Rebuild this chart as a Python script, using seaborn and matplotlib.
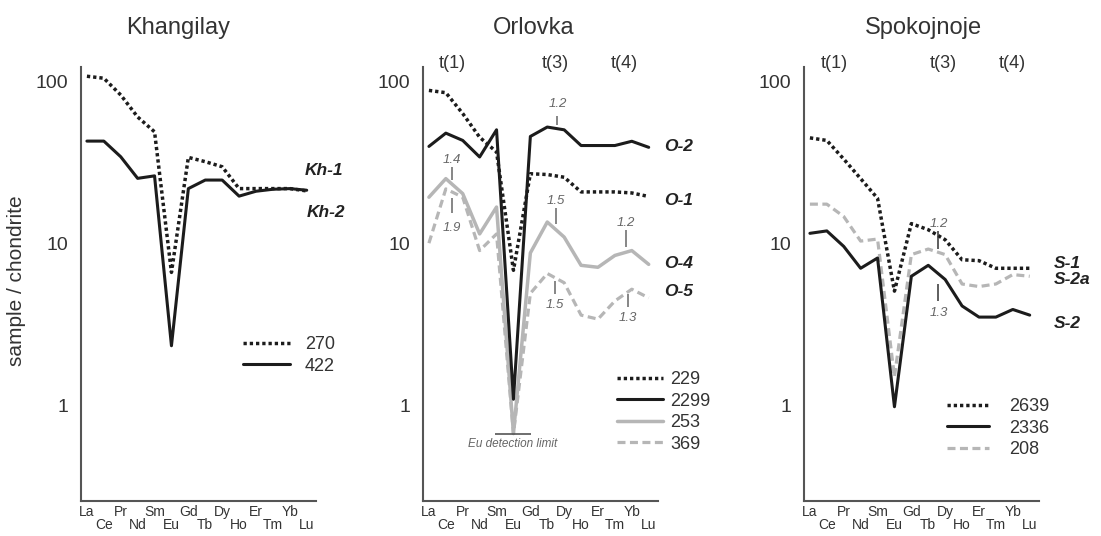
import numpy as np
import matplotlib
matplotlib.use("Agg")
import matplotlib.pyplot as plt
import seaborn as sns

# REE elements (chondrite-normalized patterns)
ELEMENTS = ["La", "Ce", "Pr", "Nd", "Sm", "Eu", "Gd", "Tb", "Dy", "Ho", "Er", "Tm", "Yb", "Lu"]

# Khangilay
KH_270 = [107, 104, 82, 60, 48.6, 6.6, 33.8, 31.8, 29.6, 21.7, 21.7, 21.7, 21.7, 21.0]
KH_422 = [42.6, 42.6, 34.1, 25.1, 26.0, 2.33, 21.7, 24.5, 24.5, 19.5, 20.9, 21.5, 21.7, 21.2]

# Orlovka
EU_LIMIT = 0.67
OR_229 = [87.5, 84.7, 63, 45, 36.5, 6.8, 26.8, 26.5, 25.5, 20.7, 20.7, 20.7, 20.4, 19.4]
OR_2299 = [39.5, 47.7, 43, 34, 50, 1.09, 45.5, 52, 50, 40, 40, 40, 42.5, 39]
OR_253 = [19.2, 25, 20.2, 11.4, 16.7, EU_LIMIT, 8.7, 13.5, 10.9, 7.3, 7.1, 8.4, 9.0, 7.4]
OR_369 = [10, 21.6, 19.2, 9.0, 11.4, EU_LIMIT, 4.9, 6.5, 5.7, 3.6, 3.4, 4.4, 5.2, 4.6]

# Spokojnoje
SP_2639 = [44.6, 43, 33, 25, 18.9, 5.06, 13.2, 12.1, 10.5, 7.9, 7.8, 7.0, 7.0, 7.0]
SP_2336 = [11.5, 11.9, 9.55, 7.0, 8.1, 0.98, 6.25, 7.3, 5.97, 4.1, 3.5, 3.5, 3.9, 3.6]
SP_208 = [17.4, 17.4, 14.6, 10.3, 10.6, 1.5, 8.5, 9.2, 8.5, 5.6, 5.4, 5.6, 6.4, 6.25]

sns.set_style("white")
plt.rcParams["font.family"] = ["Liberation Sans", "DejaVu Sans"]

W, H = 1101, 536
BLACK = "#1c1c1c"
GRAY = "#b6b6b6"
AXC = "#555555"
TXT = "#333333"
ANN = "#666666"

STYLES = {
    "dot": dict(color=BLACK, linewidth=2.5, linestyle=(0, (0.95, 0.85))),
    "solid": dict(color=BLACK, linewidth=2.2, linestyle="-"),
    "gsolid": dict(color=GRAY, linewidth=2.5, linestyle="-"),
    "gdash": dict(color=GRAY, linewidth=2.3, linestyle=(0, (2.5, 1.4))),
}

panels = [
    dict(title="Khangilay", cx=178, left=81,
         series=[("422", KH_422, "solid"), ("270", KH_270, "dot")],
         order=["270", "422"], leg=(243, 336), htp=0.83, hl=2.6,
         labels=[("Kh-1", 12.9, 28.2), ("Kh-2", 13.0, 15.5)],
         tlabels=[], notes=[], ncol=ANN),
    dict(title="Orlovka", cx=534, left=423,
         series=[("253", OR_253, "gsolid"), ("369", OR_369, "gdash"),
                 ("229", OR_229, "dot"), ("2299", OR_2299, "solid")],
         order=["229", "2299", "253", "369"], leg=(617, 371), htp=0.4, hl=2.55,
         labels=[("O-2", 13.9, 39.2), ("O-1", 13.9, 18.4), ("O-4", 13.9, 7.5), ("O-5", 13.9, 5.0)],
         tlabels=[("t(1)", 1.4), ("t(3)", 7.45), ("t(4)", 11.57)],
         notes=[(OR_2299, 7.6, "1.2", 0.02, 0.08, 0.155),
                (OR_253, 1.37, "1.4", 0.025, 0.105, 0.148),
                (OR_369, 1.37, "1.9", -0.037, -0.13, -0.222),
                (OR_253, 7.5, "1.5", 0.037, 0.136, 0.179),
                (OR_253, 11.65, "1.2", 0.031, 0.136, 0.179),
                (OR_369, 7.45, "1.5", -0.02, -0.1, -0.17),
                (OR_369, 11.76, "1.3", -0.01, -0.094, -0.16)],
         ncol=ANN),
    dict(title="Spokojnoje", cx=923, left=804,
         series=[("208", SP_208, "gdash"), ("2639", SP_2639, "dot"), ("2336", SP_2336, "solid")],
         order=["2639", "2336", "208"], leg=(947, 398), htp=1.15, hl=2.3,
         labels=[("S-1", 14.4, 7.5), ("S-2a", 14.4, 5.95), ("S-2", 14.4, 3.2)],
         tlabels=[("t(1)", 1.44), ("t(3)", 7.88), ("t(4)", 12.0)],
         notes=[(SP_2639, 7.6, "1.2", -0.08, 0.03, 0.074),
                (SP_2336, 7.6, "1.3", -0.064, -0.167, -0.24)],
         ncol="#333333"),
]

fig = plt.figure(figsize=(W / 100, H / 100), dpi=100)
x = np.arange(len(ELEMENTS))

for p in panels:
    ax = fig.add_axes([p["left"] / W, 1 - 501 / H, 235 / W, 434 / H])
    for name, vals, st in p["series"]:
        sns.lineplot(x=x, y=vals, ax=ax, label=name, **STYLES[st])

    ax.set_yscale("log")
    ax.set_ylim(0.257, 122)
    ax.set_yticks([1, 10, 100])
    ax.set_yticklabels(["1", "10", "100"])
    ax.yaxis.set_minor_locator(matplotlib.ticker.NullLocator())
    ax.set_xlim(-0.35, 13.55)
    # two staggered rows of element names
    ax.set_xticks(x[::2])
    ax.set_xticklabels(ELEMENTS[::2])
    ax.set_xticks(x[1::2], minor=True)
    ax.set_xticklabels(ELEMENTS[1::2], minor=True)
    ax.set_xlabel("")
    ax.set_ylabel("")

    sns.despine(ax=ax)
    for s in ["left", "bottom"]:
        ax.spines[s].set_color(AXC)
        ax.spines[s].set_linewidth(1.5)
    ax.tick_params(axis="both", which="both", direction="in", length=5, width=1.2,
                   color=AXC, labelcolor=TXT)
    ax.tick_params(axis="y", labelsize=14, pad=9.4)
    ax.tick_params(axis="x", which="both", labelsize=10, pad=3)
    ax.tick_params(axis="x", which="minor", pad=12.4)

    # legend
    handles, names = ax.get_legend_handles_labels()
    hmap = dict(zip(names, handles))
    lx, ly = p["leg"]
    ax.legend([hmap[n] for n in p["order"]], p["order"], loc="upper left",
              bbox_to_anchor=(lx / W, 1 - ly / H), bbox_transform=fig.transFigure,
              frameon=False, fontsize=13, borderpad=0, borderaxespad=0,
              handlelength=p["hl"], handletextpad=p["htp"], labelspacing=0.25,
              labelcolor=TXT)

    for txt, lxp, lyp in p["labels"]:
        ax.text(lxp, lyp, txt, ha="left", va="center", fontsize=12.5,
                fontweight="bold", style="italic", color="#222222")

    for txt, tx in p["tlabels"]:
        ax.text(tx, 129, txt, ha="center", va="center", fontsize=13, color=TXT)

    for vals, xp, txt, lo, hi, lab in p["notes"]:
        v = 10 ** np.interp(xp, x, np.log10(vals))
        ax.vlines(xp, v * 10 ** lo, v * 10 ** hi, color=p["ncol"], lw=1.1)
        ax.text(xp, v * 10 ** lab, txt, ha="center", va="center", fontsize=9.5,
                style="italic", color=ANN)

    if p["title"] == "Orlovka":
        ax.hlines(EU_LIMIT, 3.9, 6.05, color="#555555", lw=1.2)
        ax.text(4.95, EU_LIMIT * 10 ** -0.067, "Eu detection limit", ha="center", va="center",
                fontsize=8.5, style="italic", color=ANN)

    fig.text(p["cx"] / W, 1 - 34 / H, p["title"], ha="center", va="baseline",
             fontsize=17, color=TXT)

fig.text(17 / W, 1 - 281 / H, "sample / chondrite", rotation=90, ha="center", va="center",
         fontsize=15, color=TXT)

fig.savefig("out.png", dpi=100, facecolor="white")
